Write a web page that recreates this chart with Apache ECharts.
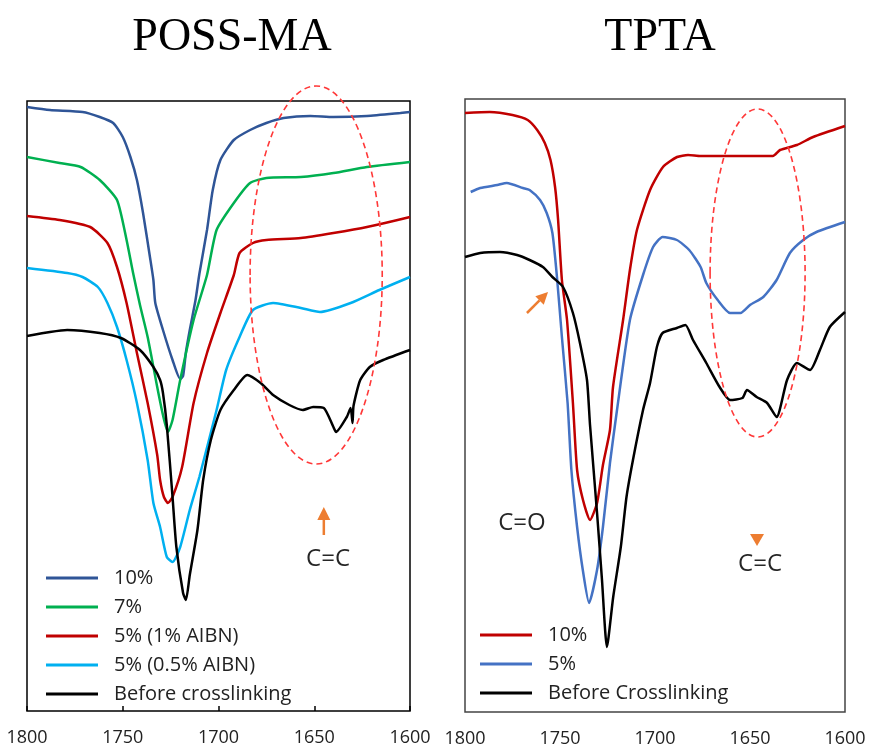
<!DOCTYPE html>
<html><head><meta charset="utf-8">
<script src="https://cdn.jsdelivr.net/npm/echarts@6/dist/echarts.min.js"></script>
<style>html,body{margin:0;padding:0;background:#fff}#c{width:869px;height:751px}</style>
</head><body><div id="c"></div>
<script>
// Wavenumber (cm-1) tick labels
const xTicks = [1800, 1750, 1700, 1650, 1600];
// Legend names
const possNames = ['10%', '7%', '5% (1% AIBN)', '5% (0.5% AIBN)', 'Before crosslinking'];
const tptaNames = ['10%', '5%', 'Before Crosslinking'];

// POSS-MA spectra: [wavenumber, transmittance (a.u.)]
const poss10 = [[1800,604],[1788,601],[1771,599],[1762,594],[1755,588],[1750,574],[1746,554],[1742.6,531],[1739.4,498],[1735.8,454],[1734,431],[1733,408],[1729,381],[1724,351],[1720,332],[1718.5,335],[1717,359],[1715,381],[1712,411],[1710,437],[1706,481],[1703,521],[1699,551],[1692,571],[1683.5,581],[1675,588],[1666,593],[1652,595],[1640,594],[1622.5,595],[1605,598],[1600,599]];
const poss7 = [[1800,554],[1783,548],[1772,544],[1762,531],[1753,511],[1748,471],[1744.6,438],[1741,406],[1737,374],[1732,324],[1729,296],[1726.4,279],[1724,291],[1720,331],[1713,391],[1706,436],[1701,481],[1692,508],[1683.5,528],[1675,533],[1657,534],[1640,538],[1622.5,544],[1600,549]];
const poss5a = [[1800,495],[1783,491],[1767,484],[1758,468],[1753,444],[1748,408],[1742.6,358],[1737,308],[1732,256],[1730.5,231],[1728.5,214],[1726.4,208],[1724,214],[1719,244],[1713,308],[1706,358],[1699,398],[1692,436],[1689,458],[1682,468],[1675,471],[1657,473],[1640,478],[1622.5,484],[1600,494]];
const poss5b = [[1800,443],[1779,438],[1771,434],[1763,424],[1758,408],[1753,384],[1748,351],[1742.6,308],[1737,251],[1734,208],[1730.5,184],[1727,154],[1724,149],[1720,164],[1715,201],[1710,234],[1701,301],[1696,341],[1689,374],[1682,401],[1671.5,408],[1657,403],[1647,399],[1631,408],[1616,421],[1600,434]];
const possBefore = [[1800,375],[1788,379],[1779,381],[1762,378],[1751,373],[1741,361],[1734,344],[1730.5,331],[1729,318],[1727,286],[1724,214],[1722,164],[1718.5,118],[1717,111],[1715,136],[1711,181],[1708,231],[1704,271],[1699,301],[1692,321],[1685,336],[1678,328],[1671.5,316],[1663,306],[1656,301],[1650.6,304],[1645,303],[1640,284],[1638.6,279],[1633,294],[1631,303],[1630,288],[1629.5,305],[1626,331],[1621,344],[1614,351],[1600,361]];

// TPTA spectra
const tpta10 = [[1800,599],[1787,600],[1775,597],[1767,592],[1762,582],[1758,569],[1755,552],[1752.6,525],[1751,492],[1749,432],[1746.3,392],[1743.2,309],[1741,242],[1737.9,212],[1734.2,192],[1730.5,209],[1727.4,247],[1723.7,282],[1722.1,325],[1716.8,392],[1713.2,442],[1709.5,482],[1702.6,522],[1695.8,545],[1688.4,555],[1682.6,557],[1676,556],[1638,556],[1634.2,562],[1625.3,567],[1616.8,575],[1600,586]];
const tpta5 = [[1797,520],[1792,524],[1783,527],[1778,529],[1769.5,524],[1766,522],[1760.5,512],[1757,499],[1754,479],[1751.6,435],[1749,375],[1746,309],[1744,242],[1741,185],[1738,142],[1734.7,109],[1730.5,142],[1727.4,185],[1723.7,249],[1720,302],[1713.2,392],[1706.3,437],[1701,465],[1696,475],[1688.5,472],[1682,462],[1676,445],[1673,429],[1667,412],[1660.5,399],[1655,399],[1650,407],[1643,415],[1636,432],[1629,459],[1622,472],[1615,480],[1600,490]];
const tptaBefore = [[1800,455],[1792,459],[1781.6,460],[1772.6,457],[1766,452],[1759,445],[1754,435],[1748.4,425],[1743.2,399],[1739.5,369],[1735.8,332],[1734.2,287],[1730.5,199],[1727.9,132],[1725.3,65],[1722,115],[1718,165],[1715,215],[1711.6,252],[1706.3,302],[1702.6,329],[1699,365],[1696,379],[1688.5,384],[1684,387],[1680,372],[1673,349],[1666,325],[1660.5,312],[1654,314],[1651.6,322],[1646.5,315],[1641,309],[1636,295],[1630.5,332],[1625.3,349],[1618.4,342],[1613.2,362],[1608,385],[1600,400]];

const possData = [poss10, poss7, poss5a, poss5b, possBefore];
const tptaData = [tpta10, tpta5, tptaBefore];
const possColors = ['#2F5597', '#00B050', '#C00000', '#00B0F0', '#000000'];
const tptaColors = ['#C00000', '#4472C4', '#000000'];

const FONT = '"Open Sans", "Noto Sans", sans-serif';

function xAxisCfg(g, ticks) {
  return {
    type: 'value', gridIndex: g, min: 1600, max: 1800, interval: 50, inverse: true,
    axisLine: { show: false }, splitLine: { show: false },
    axisTick: { show: ticks, inside: true, length: 5, lineStyle: { color: '#000', width: 1.5 } },
    axisLabel: { margin: 18, fontSize: 18, fontFamily: FONT, color: '#222',
      formatter: v => xTicks.includes(v) ? String(v) : '' }
  };
}
function yAxisCfg(g, max) {
  return { type: 'value', gridIndex: g, min: 0, max: max, show: false, splitLine: { show: false } };
}

const series = [];
possData.forEach((d, i) => series.push({
  type: 'line', name: 'P ' + possNames[i], xAxisIndex: 0, yAxisIndex: 0, data: d,
  symbol: 'none', smooth: 0.2,
  lineStyle: { color: possColors[i], width: 2.5 }, itemStyle: { color: possColors[i] }
}));
tptaData.forEach((d, i) => series.push({
  type: 'line', name: 'T ' + tptaNames[i], xAxisIndex: 1, yAxisIndex: 1, data: d,
  symbol: 'none', smooth: 0.2,
  lineStyle: { color: tptaColors[i], width: 2.5 }, itemStyle: { color: tptaColors[i] }
}));

const legendCommon = {
  orient: 'vertical', padding: 0, itemWidth: 52, itemHeight: 3, itemGap: 9,
  icon: 'rect', selectedMode: false,
  itemStyle: { borderWidth: 0 },
  textStyle: { fontSize: 20, lineHeight: 20, fontFamily: FONT, color: '#222', padding: [0, 0, 0, 11] },
  formatter: n => n.slice(2)
};

const option = {
  animation: false,
  backgroundColor: '#fff',
  grid: [
    { left: 27, right: 459, top: 101, bottom: 40, show: true, borderColor: '#000', borderWidth: 1.5, backgroundColor: 'transparent' },
    { left: 465, right: 24, top: 99, bottom: 39, show: true, borderColor: '#444', borderWidth: 1.5, backgroundColor: 'transparent' }
  ],
  xAxis: [xAxisCfg(0, true), xAxisCfg(1, false)],
  yAxis: [yAxisCfg(0, 610), yAxisCfg(1, 613)],
  legend: [
    Object.assign({ left: 46, top: 568, data: possNames.map(n => 'P ' + n) }, legendCommon),
    Object.assign({ left: 480, top: 625, data: tptaNames.map(n => 'T ' + n) }, legendCommon)
  ],
  series: series
};

const chart = echarts.init(document.getElementById('c'));
chart.setOption(option);

function px(g, p) { return chart.convertToPixel({ gridIndex: g }, p); }
function ellipse(g, cx, cy, rxData, ryData) {
  const c = px(g, [cx, cy]);
  const e = px(g, [cx - rxData, cy + ryData]);
  return { type: 'ellipse', silent: true, z: 10,
    shape: { cx: c[0], cy: c[1], rx: Math.abs(e[0] - c[0]), ry: Math.abs(e[1] - c[1]) },
    style: { fill: 'none', stroke: '#FF3838', lineWidth: 1.6, lineDash: [6, 4] } };
}
function arrow(g, from, to, head, color) {
  const a = px(g, from), b = px(g, to);
  const dx = b[0] - a[0], dy = b[1] - a[1];
  const len = Math.sqrt(dx * dx + dy * dy), ux = dx / len, uy = dy / len;
  const bx = b[0] - ux * head, by = b[1] - uy * head;
  const nx = -uy, ny = ux, hw = head / 2;
  return [
    { type: 'line', silent: true, z: 10, shape: { x1: a[0], y1: a[1], x2: bx, y2: by }, style: { stroke: color, lineWidth: 2.5 } },
    { type: 'polygon', silent: true, z: 10, shape: { points: [[b[0], b[1]], [bx + nx * hw, by + ny * hw], [bx - nx * hw, by - ny * hw]] }, style: { fill: color } }
  ];
}
function label(g, p, text, size) {
  const q = px(g, p);
  return { type: 'text', silent: true, z: 10, x: q[0], y: q[1],
    style: { text: text, font: size + 'px ' + FONT, fill: '#262626', align: 'center', verticalAlign: 'middle', textAlign: 'center', textVerticalAlign: 'middle' } };
}
function title(x, y, text) {
  return { type: 'text', silent: true, z: 10, x: x, y: y,
    style: { text: text, font: '46px "Liberation Serif", "Times New Roman", serif', fill: '#000', align: 'center', verticalAlign: 'middle', textAlign: 'center', textVerticalAlign: 'middle' } };
}
const tri = px(1, [1646.3, 172]);
const elements = [
  title(232, 38, 'POSS-MA'),
  title(660, 38, 'TPTA'),
  ellipse(0, 1649, 436, 34.5, 189),
  ellipse(1, 1646, 439, 25, 164),
  ...arrow(0, [1645, 176], [1645, 204], 13, '#ED7D31'),
  ...arrow(1, [1767.4, 399], [1756.3, 420], 12, '#ED7D31'),
  { type: 'polygon', silent: true, z: 10, shape: { points: [[tri[0] - 7, tri[1] - 6], [tri[0] + 7, tri[1] - 6], [tri[0], tri[1] + 6]] }, style: { fill: '#ED7D31' } },
  label(0, [1642.8, 152], 'C=C', 24),
  label(1, [1644.7, 148], 'C=C', 24),
  label(1, [1770, 189], 'C=O', 24)
];
chart.setOption({ graphic: { elements: elements } });
</script>
</body></html>
